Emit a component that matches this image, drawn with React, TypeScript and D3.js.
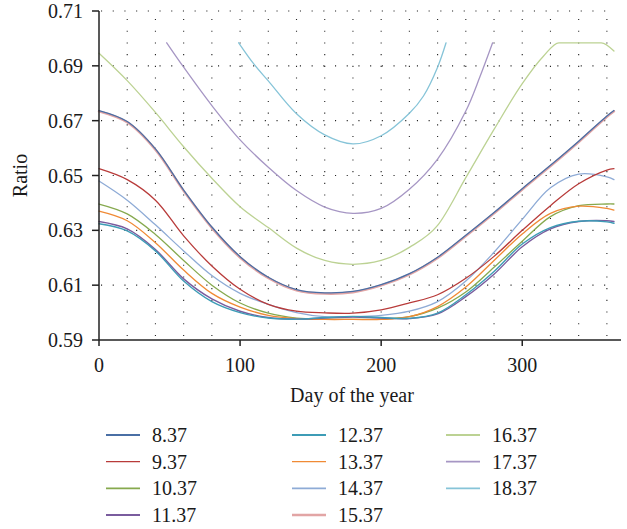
import React from 'react';
import * as d3 from 'd3';

const NAMES = ['8.37', '9.37', '10.37', '11.37', '12.37', '13.37', '14.37', '15.37', '16.37', '17.37', '18.37'];
const COLORS = ['#4a6fa5', '#b83b3a', '#86a94e', '#7a5c9e', '#3d9cb6', '#f08a35', '#8eabd6', '#e2a5a5', '#bcd293', '#a696c4', '#86c4d8'];
const WIDTHS = [1.3, 1.3, 1.3, 1.4, 1.4, 1.3, 1.3, 2.4, 1.3, 1.3, 1.3];
const LEGEND_WIDTHS = [2.2, 1.3, 1.8, 2.2, 2.2, 1.3, 1.8, 2.4, 2.2, 1.8, 1.8];

const DAYS = [0, 20, 40, 60, 80, 100, 120, 140, 160, 180, 200, 220, 240, 260, 280, 300, 320, 340, 360, 365];
const V837 = [0.6737, 0.6697, 0.6597, 0.6447, 0.6312, 0.6204, 0.6129, 0.6084, 0.6072, 0.6077, 0.6102, 0.6142, 0.6202, 0.6282, 0.6365, 0.6452, 0.6537, 0.6625, 0.6717, 0.6737];
const V937 = [0.6525, 0.6485, 0.641, 0.628, 0.617, 0.6085, 0.603, 0.6005, 0.5999, 0.5998, 0.601, 0.6035, 0.6065, 0.6125, 0.6205, 0.63, 0.639, 0.647, 0.652, 0.6525];
const V1037 = [0.6396, 0.636, 0.6285, 0.619, 0.61, 0.6035, 0.5998, 0.598, 0.5976, 0.5975, 0.5976, 0.5985, 0.6016, 0.6075, 0.6165, 0.626, 0.635, 0.639, 0.6396, 0.6396];
const V1137 = [0.6332, 0.6305, 0.623, 0.6123, 0.605, 0.6005, 0.5982, 0.5976, 0.598, 0.5984, 0.598, 0.5978, 0.5995, 0.6058, 0.614, 0.624, 0.6305, 0.6332, 0.6335, 0.6332];
const V1237 = [0.6324, 0.6298, 0.6225, 0.6115, 0.604, 0.6, 0.598, 0.5976, 0.5982, 0.5986, 0.5982, 0.5979, 0.5998, 0.6065, 0.615, 0.625, 0.631, 0.6333, 0.6331, 0.6326];
const V1337 = [0.637, 0.6335, 0.6255, 0.6155, 0.607, 0.602, 0.599, 0.5978, 0.5975, 0.5975, 0.5975, 0.5985, 0.6022, 0.6093, 0.619, 0.6287, 0.6362, 0.6388, 0.638, 0.6374];
const V1437 = [0.648, 0.641, 0.632, 0.6225, 0.6135, 0.607, 0.603, 0.6, 0.5985, 0.5985, 0.599, 0.6005, 0.604, 0.6115, 0.622, 0.634, 0.6455, 0.6505, 0.6495, 0.6485];
const V1537 = [0.6734, 0.6694, 0.6594, 0.6444, 0.6309, 0.6201, 0.6126, 0.6081, 0.6069, 0.6074, 0.6099, 0.6139, 0.6199, 0.6279, 0.6362, 0.6449, 0.6534, 0.6622, 0.6714, 0.6734];

const DAYS_1637 = [0, 20, 40, 60, 80, 100, 120, 140, 160, 180, 200, 220, 240, 260, 280, 300, 315, 326, 356, 365];
const V1637 = [0.6946, 0.6846, 0.673, 0.6605, 0.649, 0.6386, 0.631, 0.6235, 0.619, 0.6176, 0.619, 0.6238, 0.6318, 0.6492, 0.6668, 0.6835, 0.6935, 0.6984, 0.6984, 0.6954];
const DAYS_1737 = [48, 60, 80, 100, 120, 140, 160, 180, 200, 220, 240, 260, 270, 279];
const V1737 = [0.6984, 0.6895, 0.6755, 0.663, 0.653, 0.6445, 0.6385, 0.6362, 0.638, 0.645, 0.656, 0.6735, 0.686, 0.6984];
const DAYS_1837 = [99, 110, 120, 140, 160, 180, 200, 220, 230, 240, 246];
const V1837 = [0.6984, 0.6905, 0.6845, 0.6725, 0.6648, 0.6615, 0.6645, 0.6727, 0.679, 0.6895, 0.6984];

const SERIES_DAYS = [DAYS, DAYS, DAYS, DAYS, DAYS, DAYS, DAYS, DAYS, DAYS_1637, DAYS_1737, DAYS_1837];
const SERIES_VALUES = [V837, V937, V1037, V1137, V1237, V1337, V1437, V1537, V1637, V1737, V1837];
const DRAW_ORDER = [10, 9, 8, 7, 0, 6, 1, 2, 5, 3, 4];

const Y_TICKS = [0.59, 0.61, 0.63, 0.65, 0.67, 0.69, 0.71];
const X_TICKS = [0, 100, 200, 300];
const X_GRID = d3.range(20, 361, 20);

const FONT = '"Liberation Serif", "Times New Roman", serif';

export default function App() {
  const W = 627, H = 529;
  const x = d3.scaleLinear().domain([0, 370]).range([99, 621]);
  const y = d3.scaleLinear().domain([0.59, 0.71]).range([340, 11]);
  const smooth = d3.line<[number, number]>().x(d => x(d[0])).y(d => y(d[1])).curve(d3.curveCatmullRom.alpha(0.5));
  const mono = d3.line<[number, number]>().x(d => x(d[0])).y(d => y(d[1])).curve(d3.curveMonotoneX);

  const legendCols = [106, 292, 446];
  const legendRows = [435, 461.7, 488.3, 515];

  return (
    <svg width={W} height={H} style={{ position: 'absolute', left: 0, top: 0, background: '#fff' }} fontFamily={FONT}>
      <rect x={0} y={0} width={W} height={H} fill="#fff" />
      <g stroke="#222" strokeWidth={1.1} strokeDasharray="1.1 10.6">
        {Y_TICKS.slice(1).map(t => (
          <line key={'h' + t} x1={x(0) + 2} x2={x(366)} y1={y(t)} y2={y(t)} />
        ))}
        {X_GRID.map(t => (
          <line key={'v' + t} x1={x(t)} x2={x(t)} y1={y(0.59) - 4} y2={y(0.71)} />
        ))}
      </g>
      <g fill="none" strokeLinejoin="round" strokeLinecap="round">
        {DRAW_ORDER.map(i => {
          const pts = SERIES_DAYS[i].map((d, k) => [d, SERIES_VALUES[i][k]] as [number, number]);
          const gen = i === 8 ? mono : smooth;
          return <path key={NAMES[i]} d={gen(pts) || ''} stroke={COLORS[i]} strokeWidth={WIDTHS[i]} />;
        })}
      </g>
      <g stroke="#222" strokeWidth={1.5}>
        <line x1={x(0)} x2={x(0)} y1={y(0.59)} y2={y(0.71)} />
        <line x1={x(0)} x2={x(370)} y1={y(0.59)} y2={y(0.59)} />
        {Y_TICKS.map(t => (
          <line key={'yt' + t} x1={x(0) - 7} x2={x(0)} y1={y(t)} y2={y(t)} />
        ))}
        {X_TICKS.map(t => (
          <line key={'xt' + t} x1={x(t)} x2={x(t)} y1={y(0.59)} y2={y(0.59) + 6} />
        ))}
      </g>
      <g fontSize={20} fill="#1a1a1a">
        {Y_TICKS.map(t => (
          <text key={'yl' + t} x={x(0) - 16} y={y(t)} dy="0.35em" textAnchor="end">{t.toFixed(2)}</text>
        ))}
        {X_TICKS.map(t => (
          <text key={'xl' + t} x={x(t)} y={y(0.59) + 32} textAnchor="middle">{t}</text>
        ))}
        <text x={352} y={402} textAnchor="middle">Day of the year</text>
        <text transform={`translate(27,${(y(0.59) + y(0.71)) / 2}) rotate(-90)`} textAnchor="middle">Ratio</text>
      </g>
      <g fontSize={20} fill="#1a1a1a">
        {NAMES.map((n, i) => {
          const col = Math.floor(i / 4);
          const row = i % 4;
          const lx = legendCols[col];
          const ly = legendRows[row];
          return (
            <g key={'lg' + n}>
              <line x1={lx} x2={lx + 34} y1={ly} y2={ly} stroke={COLORS[i]} strokeWidth={LEGEND_WIDTHS[i]} />
              <text x={lx + 46} y={ly} dy="0.35em">{n}</text>
            </g>
          );
        })}
      </g>
    </svg>
  );
}
